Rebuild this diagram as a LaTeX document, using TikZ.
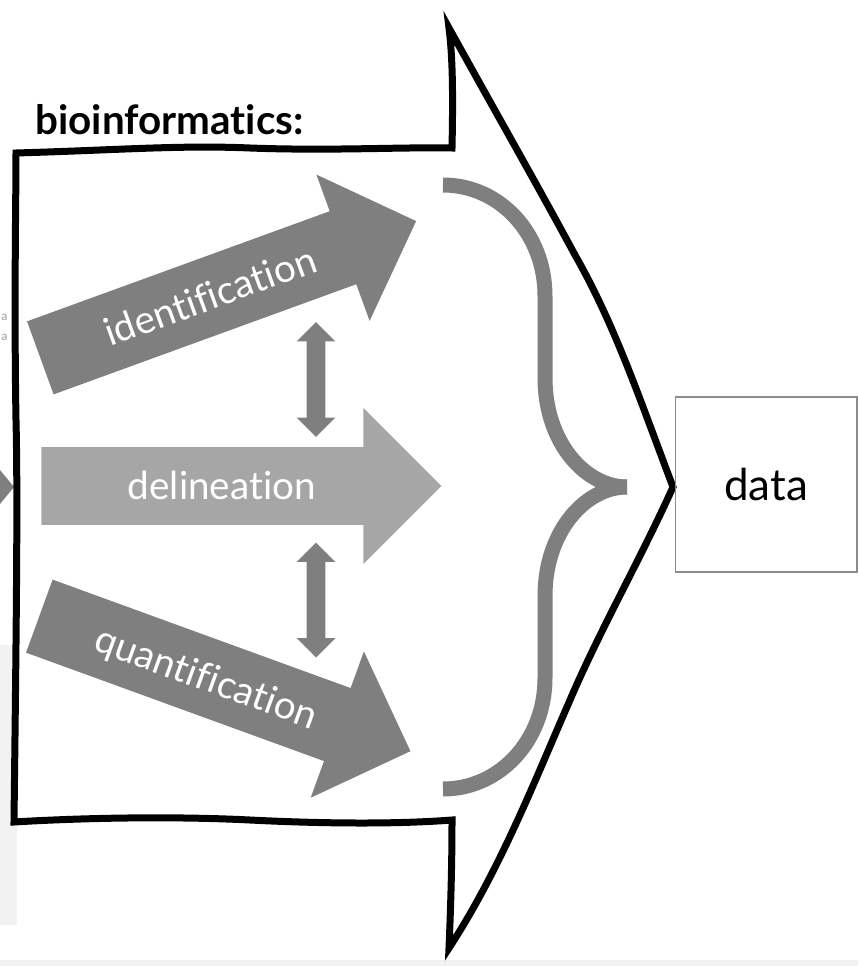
\documentclass[tikz,border=0pt]{standalone}
\usepackage{fontspec}
\setmainfont{Lato}[Ligatures=NoCommon]
\usetikzlibrary{shapes.arrows}
\definecolor{arrdark}{HTML}{7F7F7F}
\definecolor{arrlight}{HTML}{A6A6A6}
\definecolor{panelgray}{HTML}{F2F2F2}
\definecolor{boxline}{HTML}{8C8C8C}
\tikzset{
  flowarrow/.style={single arrow, draw=none, text=white, anchor=tail, inner sep=0pt,
    text height=1.04cm, text depth=0.5cm,
    minimum height=8cm, minimum width=3.1cm, single arrow head extend=0.78cm,
    font=\fontsize{22}{26}\selectfont},
  linkarrow/.style={double arrow, fill=arrdark, rotate=90, inner sep=0pt,
    text height=0.18cm, text depth=0.18cm,
    minimum height=2.3cm, minimum width=0.76cm, double arrow head extend=0.2cm},
  sketchline/.style={draw=black, line width=0.14cm, line join=miter},
  bracestroke/.style={draw=arrdark, line width=0.3cm, line cap=butt},
}

\begin{document}
\begin{tikzpicture}[
  x=0.02cm, y=-0.02cm,
  databox/.style={draw=boxline, line width=0.6pt, minimum width=3.64cm, minimum height=3.5cm,
    font=\fontsize{25}{30}\selectfont},
]
  \useasboundingbox[fill=white] (0,0) rectangle (858,966);

  % bits of the neighbouring slide
  \fill[panelgray] (0,645) rectangle (17,925);
  \fill[panelgray] (0,960) rectangle (858,966);
  \fill[arrdark] (0,470) -- (14,487) -- (0,504) -- cycle;
  \node[text=gray!75, anchor=west, inner sep=0pt, font=\fontsize{7}{8}\selectfont] (cuta) at (1,317) {a};
  \node[text=gray!75, anchor=west, inner sep=0pt, font=\fontsize{7}{8}\selectfont] (cutb) at (1,337) {a};

  % hand drawn big arrow
  \draw[sketchline] (16,153) .. controls (120,150) and (180,145) .. (250,148)
    .. controls (330,151) and (400,147) .. (452,148)
    .. controls (453,100) and (453,60) .. (449,28)
    .. controls (500,120) and (540,190) .. (575,255)
    .. controls (615,325) and (640,400) .. (673,487)
    .. controls (640,560) and (600,630) .. (570,700)
    .. controls (535,780) and (500,870) .. (449,948)
    .. controls (451,900) and (452,860) .. (452,820)
    .. controls (400,824) and (330,824) .. (250,820)
    .. controls (170,816) and (80,818) .. (14,822)
    .. controls (16,650) and (18,500) .. (16,420)
    .. controls (14,300) and (16,200) .. cycle;

  \node[anchor=base west, inner sep=0pt, font=\fontsize{23}{27}\selectfont\bfseries] (title) at (35,135) {bioinformatics:};

  \node[flowarrow, fill=arrdark, rotate=20] (ident) at (40,358) {identification};
  \node[flowarrow, fill=arrlight] (delin) at (41,486) {delineation};
  \node[flowarrow, fill=arrdark, rotate=-20, minimum height=7.9cm] (quant) at (39,616) {quantification};

  \node[linkarrow] (link1) at (316,379.5) {};
  \node[linkarrow] (link2) at (316,600) {};

  % brace gathering the three steps
  \draw[bracestroke] (443,185) .. controls (500,185) and (545,234) .. (545,296) -- (545,378)
    .. controls (545,442) and (585,487) .. (627,487);
  \draw[bracestroke] (443,789) .. controls (500,789) and (545,740) .. (545,678) -- (545,596)
    .. controls (545,532) and (585,487) .. (627,487);

  \node[databox] (data) at (766,484.5) {data};
\end{tikzpicture}
\end{document}
